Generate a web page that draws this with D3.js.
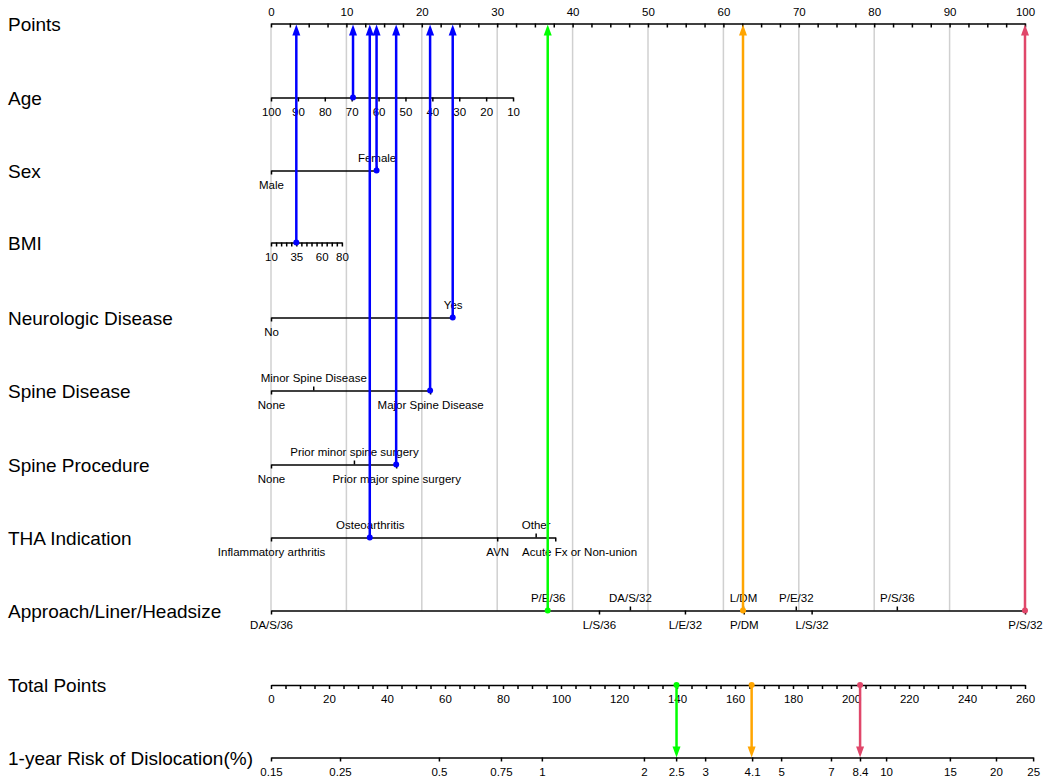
<!DOCTYPE html>
<meta charset="utf-8">
<script src="https://cdn.jsdelivr.net/npm/d3@7"></script>
<style>
body{margin:0;background:#fff;}
text{font-family:"Liberation Sans",Arial,Helvetica,sans-serif;}
.ax path,.ax line{stroke:#000;stroke-width:1.5;}
.ax text{font-size:11.5px;fill:#000;}
</style>
<body>
<script>
// ---- data ----
var rowNames = ["Points","Age","Sex","BMI","Neurologic Disease","Spine Disease","Spine Procedure",
                "THA Indication","Approach/Liner/Headsize","Total Points","1-year Risk of Dislocation(%)"];

var pointLabels = [0,10,20,30,40,50,60,70,80,90,100];

var ageTicks = [100,90,80,70,60,50,40,30,20,10];
var agePts = [0, 32.1];          // points for age 100 and age 10

var bmiLabels = [10,35,60,80];
var bmiPts = [0, 9.4];           // points for BMI 10 and BMI 80

var sexLevels = ["Male","Female"];
var sexPts = [0, 14.0];
var neuroLevels = ["No","Yes"];
var neuroPts = [0, 24.1];
var spineDzLevels = ["None","Minor Spine Disease","Major Spine Disease"];
var spineDzPts = [0, 5.6, 21.1];
var spineProcLevels = ["None","Prior minor spine surgery","Prior major spine surgery"];
var spineProcPts = [0, 11.0, 16.6];
var thaLevels = ["Inflammatory arthritis","Osteoarthritis","AVN","Other","Acute Fx or Non-union"];
var thaPts = [0, 13.1, 30.0, 35.1, 37.7];
var approachLevels = ["DA/S/36","P/E/36","L/S/36","DA/S/32","L/E/32","L/DM","P/DM","P/E/32","L/S/32","P/S/36","P/S/32"];
var approachPts = [0, 36.7, 43.5, 47.6, 54.9, 62.6, 62.7, 69.6, 71.7, 83.0, 100];

var totalLabels = [0,20,40,60,80,100,120,140,160,180,200,220,240,260];

var riskTicks = [0.15,0.25,0.5,0.75,1,2,2.5,3,4.1,5,7,8.4,10,15,20,25];
var riskTickTotals = [0,23.8,57.9,79.3,93.4,128.6,139.7,149.7,165.9,175.9,193.1,203.1,212.1,234.1,250.0,262.8];

// example patient
var patientAge = 69.5, patientSex = "Female", patientBmi = 35, patientNeuro = "Yes",
    patientSpineDz = "Major Spine Disease", patientSpineProc = "Prior major spine surgery",
    patientTha = "Osteoarthritis";
var scenarioApproach = ["P/E/36","L/DM","P/S/32"];
var scenarioColors = ["#00ff00","#ffa500","#e0476a"];

// ---- layout ----
var W = 1050, H = 783;
var rowY = [23.5,97.5,170.5,242.5,317.5,390.5,464.5,537.5,610.5,685,757.5];

var svg = d3.select("body").append("svg").attr("width",W).attr("height",H);

var xPts = d3.scaleLinear().domain([0,100]).range([271,1025]);
var xTotal = d3.scaleLinear().domain([0,260]).range([271,1025]);
var ageX = d3.scaleLinear().domain([100,10]).range(agePts.map(xPts));
var bmiX = d3.scaleLinear().domain([10,80]).range(bmiPts.map(xPts));
var riskX = d3.scaleLinear().domain(riskTicks).range(riskTickTotals.map(xTotal));

// grid lines
svg.append("g").selectAll("line").data(pointLabels).enter().append("line")
  .attr("x1",d=>xPts(d)).attr("x2",d=>xPts(d))
  .attr("y1",rowY[0]).attr("y2",rowY[8])
  .attr("stroke","#d0d0d0").attr("stroke-width",1.5);

// row titles
svg.append("g").selectAll("text").data(rowNames).enter().append("text")
  .attr("x",8).attr("y",(d,i)=>rowY[i]+7)
  .style("font-size","19px").text(d=>d);

// points axis
svg.append("g").attr("class","ax").attr("transform","translate(0,"+rowY[0]+")")
  .call(d3.axisTop(xPts).tickValues(d3.range(0,100.01,2.5))
    .tickFormat(d=>d%10===0?d:"").tickSizeInner(-4).tickSizeOuter(0).tickPadding(8));

// age
svg.append("g").attr("class","ax").attr("transform","translate(0,"+rowY[1]+")")
  .call(d3.axisBottom(ageX).tickValues(ageTicks).tickSize(4).tickSizeOuter(0).tickPadding(6));

// bmi
svg.append("g").attr("class","ax").attr("transform","translate(0,"+rowY[3]+")")
  .call(d3.axisBottom(bmiX).tickValues(d3.range(10,80.01,5))
    .tickFormat(d=>bmiLabels.indexOf(d)>=0?d:"").tickSize(4).tickSizeOuter(0).tickPadding(6));

// push labels right when they would run into the previous one
function spread(g){
  var lastRight = -Infinity;
  g.selectAll(".tick text").each(function(){
    var b = this.getBBox(), t = d3.select(this.parentNode).attr("transform");
    var tx = +t.match(/translate\(([-\d.]+)/)[1];
    var left = tx + b.x;
    if (left < lastRight + 12) {
      var shift = lastRight + 13 - left;
      d3.select(this).attr("dx", shift);
      left += shift;
    }
    lastRight = left + b.width;
  });
}

// categorical rows: labels alternate below / above
function catRow(levels, pts, y){
  var sc = d3.scaleOrdinal().domain(levels).range(pts.map(xPts));
  var below = levels.filter((d,i)=>i%2===0), above = levels.filter((d,i)=>i%2===1);
  var gb = svg.append("g").attr("class","ax").attr("transform","translate(0,"+y+")")
    .call(d3.axisBottom(sc).tickValues(below).tickSize(4).tickSizeOuter(0).tickPadding(6));
  spread(gb);
  var g = svg.append("g").attr("class","ax").attr("transform","translate(0,"+y+")")
    .call(d3.axisTop(sc).tickValues(above).tickSize(4).tickSizeOuter(0).tickPadding(5));
  g.select(".domain").remove();
  spread(g);
  return sc;
}
var sexX = catRow(sexLevels, sexPts, rowY[2]);
var neuroX = catRow(neuroLevels, neuroPts, rowY[4]);
var spineDzX = catRow(spineDzLevels, spineDzPts, rowY[5]);
var spineProcX = catRow(spineProcLevels, spineProcPts, rowY[6]);
var thaX = catRow(thaLevels, thaPts, rowY[7]);
var approachX = catRow(approachLevels, approachPts, rowY[8]);

// total points axis
svg.append("g").attr("class","ax").attr("transform","translate(0,"+rowY[9]+")")
  .call(d3.axisBottom(xTotal).tickValues(d3.range(0,260.01,5))
    .tickFormat(d=>d%20===0?d:"").tickSize(4).tickSizeOuter(0).tickPadding(6));

// risk axis
svg.append("g").attr("class","ax").attr("transform","translate(0,"+rowY[10]+")")
  .call(d3.axisBottom(riskX).tickValues(riskTicks).tickFormat(d=>d)
    .tickSize(4).tickSizeOuter(0).tickPadding(6));

// arrows
function arrow(x, y1, y2, color){
  var dir = y2 < y1 ? 1 : -1;   // head pointing up if 1
  svg.append("line").attr("x1",x).attr("x2",x).attr("y1",y1).attr("y2",y2+dir*8)
    .attr("stroke",color).attr("stroke-width",2.5);
  svg.append("path")
    .attr("d","M"+x+","+y2+"L"+(x-4)+","+(y2+dir*11)+"L"+(x+4)+","+(y2+dir*11)+"Z")
    .attr("fill",color);
  svg.append("circle").attr("cx",x).attr("cy",y1).attr("r",3).attr("fill",color);
}

var patientPts = [
  [xPts.invert(ageX(patientAge)), rowY[1]],
  [sexPts[sexLevels.indexOf(patientSex)], rowY[2]],
  [xPts.invert(bmiX(patientBmi)), rowY[3]],
  [neuroPts[neuroLevels.indexOf(patientNeuro)], rowY[4]],
  [spineDzPts[spineDzLevels.indexOf(patientSpineDz)], rowY[5]],
  [spineProcPts[spineProcLevels.indexOf(patientSpineProc)], rowY[6]],
  [thaPts[thaLevels.indexOf(patientTha)], rowY[7]]
];
var baseTotal = d3.sum(patientPts, d=>d[0]);
patientPts.forEach(function(p){ arrow(xPts(p[0]), p[1], rowY[0]+1, "#0000ff"); });

scenarioApproach.forEach(function(a,i){
  var p = approachPts[approachLevels.indexOf(a)];
  arrow(xPts(p), rowY[8], rowY[0]+1, scenarioColors[i]);
  arrow(xTotal(baseTotal+p), rowY[9], rowY[10], scenarioColors[i]);
});
</script>
</body>
</html>
